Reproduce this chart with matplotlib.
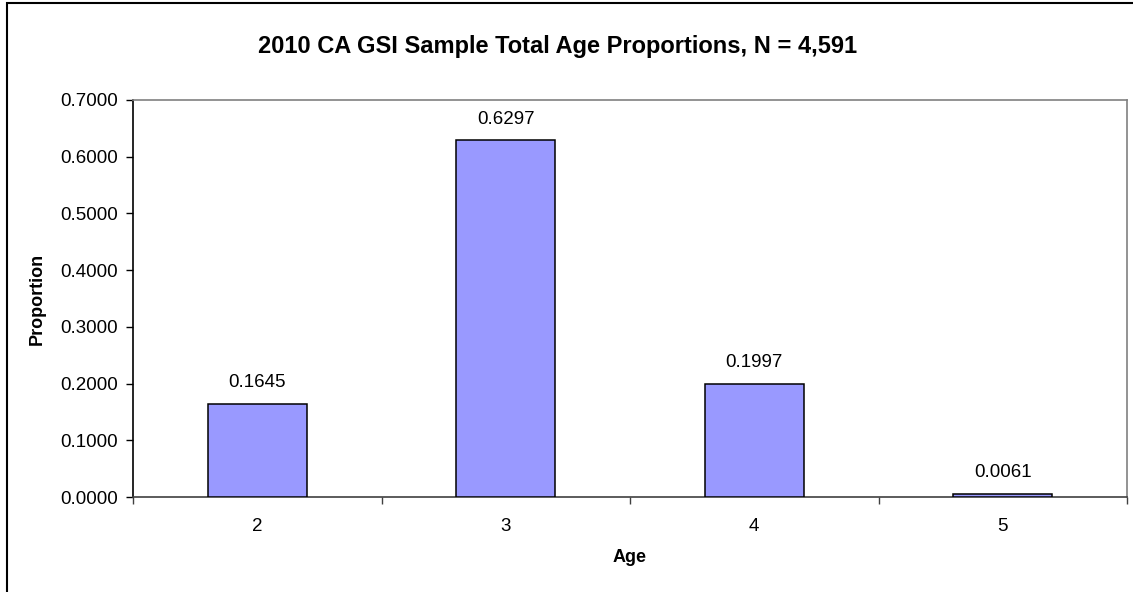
import matplotlib.pyplot as plt
from matplotlib.patches import Rectangle
import numpy as np

plt.rcParams['font.family'] = ['Liberation Sans', 'DejaVu Sans']

# age classes and their share of the sample
ages = ['2', '3', '4', '5']
proportions = [0.1645, 0.6297, 0.1997, 0.0061]
yticks = [0.0, 0.1, 0.2, 0.3, 0.4, 0.5, 0.6, 0.7]

fig = plt.figure(figsize=(11.33, 5.92), dpi=100)
ax = fig.add_axes([133 / 1133, 95 / 592, 994 / 1133, 397 / 592])

x = np.arange(len(ages))
ax.bar(x, proportions, width=0.4, color='#9999FF', edgecolor='black', linewidth=1.1, zorder=3)

for xi, v in zip(x, proportions):
    ax.annotate('%.4f' % v, (xi, v), xytext=(0, 15), textcoords='offset points',
                ha='center', va='center', fontsize=13.5)

ax.set_xlim(-0.5, len(ages) - 0.5)
ax.set_ylim(0, 0.7)
ax.set_yticks(yticks)
ax.set_yticklabels(['%.4f' % t for t in yticks])

# category labels centred, tick marks between categories
ax.set_xticks(x)
ax.set_xticklabels(ages)
ax.set_xticks(np.arange(-0.5, len(ages)), minor=True)
ax.tick_params(axis='x', which='major', length=0, pad=15, labelsize=13.5)
ax.tick_params(axis='x', which='minor', length=5, width=1, color='#404040', direction='out')
ax.tick_params(axis='y', length=5, width=1, pad=6, labelsize=13.5, direction='out')

ax.spines['left'].set_color('black')
ax.spines['bottom'].set_color('#404040')
ax.spines['top'].set_color('#808080')
ax.spines['right'].set_color('#808080')
for s in ax.spines.values():
    s.set_linewidth(1.2)

ax.set_xlabel('Age', fontsize=13, fontweight='bold', labelpad=0)
ax.xaxis.set_label_coords(0.5, -0.132)
ax.set_ylabel('Proportion', fontsize=13, fontweight='bold')
ax.yaxis.set_label_coords(-87 / 994, 0.5)

fig.text(558 / 1133, 1 - 47 / 592, '2010 CA GSI Sample Total Age Proportions, N = 4,591',
         ha='center', va='center', fontsize=17, fontweight='bold')

# chart frame
fig.patches.append(Rectangle((7 / 1133, -0.1), 1.2, 1 - 3 / 592 + 0.1, transform=fig.transFigure,
                             fill=False, edgecolor='black', linewidth=1.5))

fig.savefig('out.png', dpi=100)
